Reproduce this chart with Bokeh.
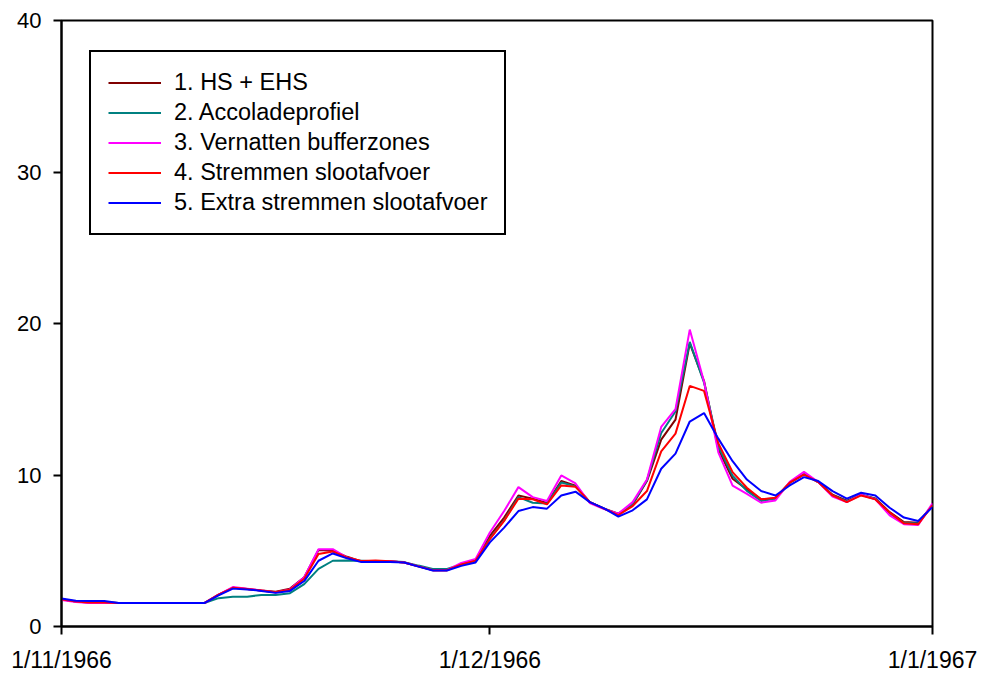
from bokeh.plotting import figure
from bokeh.models import Range1d, FixedTicker, Legend, LegendItem, ColumnDataSource
from bokeh.embed import file_html
from bokeh.resources import INLINE

# ---- data (daily values, 1 Nov 1966 .. 1 Jan 1967) ----
days = list(range(62))
tick_days = [0, 30, 61]
tick_labels = ["1/11/1966", "1/12/1966", "1/1/1967"]
y_ticks = [0, 10, 20, 30, 40]

series_names = [
    "1. HS + EHS",
    "2. Accoladeprofiel",
    "3. Vernatten bufferzones",
    "4. Stremmen slootafvoer",
    "5. Extra stremmen slootafvoer",
]
series_colors = ["#800000", "#008080", "#FF00FF", "#FF0000", "#0000FF"]

s1 = [1.8, 1.65, 1.56, 1.56, 1.55, 1.55, 1.55, 1.55, 1.55, 1.55,
      1.55, 2.1, 2.55, 2.48, 2.37, 2.3, 2.5, 3.25, 5.05, 5.0,
      4.6, 4.3, 4.3, 4.3, 4.22, 3.97, 3.72, 3.72, 4.1, 4.35,
      5.98, 7.19, 8.65, 8.44, 8.15, 9.6, 9.3, 8.21, 7.78, 7.45,
      8.06, 9.6, 12.33, 13.65, 18.69, 16.2, 11.7, 9.75, 9.05, 8.39,
      8.45, 9.49, 10.05, 9.53, 8.7, 8.3, 8.7, 8.45, 7.55, 6.9,
      6.85, 8.0]
s2 = [1.8, 1.65, 1.6, 1.6, 1.55, 1.55, 1.55, 1.55, 1.55, 1.55,
      1.55, 1.87, 1.97, 1.97, 2.08, 2.08, 2.2, 2.8, 3.8, 4.34,
      4.35, 4.34, 4.3, 4.3, 4.25, 4.02, 3.8, 3.8, 4.1, 4.35,
      5.8, 7.0, 8.54, 8.17, 8.12, 9.5, 9.25, 8.21, 7.78, 7.4,
      8.1, 9.65, 12.77, 14.19, 18.79, 16.1, 11.9, 9.95, 8.95, 8.28,
      8.45, 9.49, 10.05, 9.53, 8.65, 8.25, 8.7, 8.42, 7.45, 6.85,
      6.8, 8.0]
s3 = [1.75, 1.62, 1.55, 1.55, 1.55, 1.55, 1.55, 1.55, 1.55, 1.55,
      1.55, 2.1, 2.6, 2.5, 2.37, 2.25, 2.45, 3.25, 5.1, 5.1,
      4.55, 4.3, 4.3, 4.3, 4.22, 3.97, 3.72, 3.72, 4.2, 4.45,
      6.2, 7.62, 9.2, 8.54, 8.28, 9.97, 9.44, 8.15, 7.75, 7.45,
      8.21, 9.7, 13.17, 14.35, 19.6, 16.16, 11.5, 9.3, 8.76, 8.17,
      8.32, 9.55, 10.21, 9.53, 8.57, 8.21, 8.7, 8.39, 7.34, 6.75,
      6.7, 8.13]
s4 = [1.8, 1.65, 1.58, 1.58, 1.55, 1.55, 1.55, 1.55, 1.55, 1.55,
      1.55, 2.1, 2.55, 2.48, 2.37, 2.26, 2.42, 3.15, 4.78, 4.95,
      4.55, 4.32, 4.35, 4.3, 4.22, 3.97, 3.72, 3.72, 4.1, 4.35,
      5.76, 6.97, 8.44, 8.4, 8.06, 9.31, 9.22, 8.21, 7.78, 7.35,
      7.95, 8.94, 11.56, 12.73, 15.88, 15.55, 12.1, 10.19, 9.16, 8.4,
      8.5, 9.49, 10.03, 9.53, 8.65, 8.21, 8.65, 8.39, 7.52, 6.81,
      6.75, 8.0]
s5 = [1.85, 1.7, 1.68, 1.68, 1.55, 1.55, 1.55, 1.55, 1.55, 1.55,
      1.55, 2.05, 2.5, 2.45, 2.35, 2.22, 2.35, 3.0, 4.34, 4.82,
      4.5, 4.25, 4.25, 4.25, 4.22, 3.95, 3.7, 3.7, 4.0, 4.23,
      5.55, 6.53, 7.62, 7.88, 7.78, 8.65, 8.9, 8.21, 7.8, 7.25,
      7.67, 8.39, 10.41, 11.41, 13.53, 14.09, 12.4, 10.91, 9.7, 8.94,
      8.65, 9.31, 9.86, 9.6, 8.94, 8.44, 8.83, 8.65, 7.84, 7.19,
      6.97, 7.88]
all_series = [s1, s2, s3, s4, s5]

FONT = "Liberation Sans"

p = figure(width=984, height=675, output_backend="svg", toolbar_location=None,
           x_range=Range1d(0, 61), y_range=Range1d(0, 40),
           min_border_left=61, min_border_right=52,
           min_border_top=20, min_border_bottom=47)
p.background_fill_color = "white"
p.border_fill_color = "white"
p.outline_line_color = "black"
p.outline_line_alpha = 1
p.outline_line_width = 2
p.xgrid.grid_line_color = None
p.ygrid.grid_line_color = None

# axes
xa = p.xaxis[0]
xa.ticker = FixedTicker(ticks=tick_days)
xa.major_label_overrides = {d: lab for d, lab in zip(tick_days, tick_labels)}
ya = p.yaxis[0]
ya.ticker = FixedTicker(ticks=y_ticks)
for ax in (xa, ya):
    ax.axis_line_color = "black"
    ax.axis_line_width = 2
    ax.major_tick_line_color = "black"
    ax.major_tick_line_width = 2
    ax.major_tick_out = 8
    ax.major_tick_in = 0
    ax.minor_tick_line_color = None
    ax.major_label_text_font = FONT
    ax.major_label_text_color = "black"
    ax.major_label_text_font_size = "23px"
    ax.major_label_standoff = 12
ya.major_label_text_font_size = "22px"

items = []
for name, col, ys in zip(series_names, series_colors, all_series):
    src = ColumnDataSource(dict(x=days, y=ys))
    r = p.line("x", "y", source=src, line_color=col, line_width=2)
    items.append(LegendItem(label=name, renderers=[r]))

legend = Legend(items=items, location=(28, 391))
legend.label_text_font = FONT
legend.label_text_font_size = "23.5px"
legend.label_text_color = "black"
legend.glyph_width = 53
legend.glyph_height = 27
legend.label_height = 27
legend.label_standoff = 13
legend.spacing = 3
legend.padding = 17
legend.margin = 0
legend.border_line_color = "black"
legend.border_line_alpha = 1
legend.border_line_width = 2
legend.background_fill_color = "white"
legend.background_fill_alpha = 1
p.add_layout(legend, "center")

open("out.html", "w").write(file_html(p, INLINE))
